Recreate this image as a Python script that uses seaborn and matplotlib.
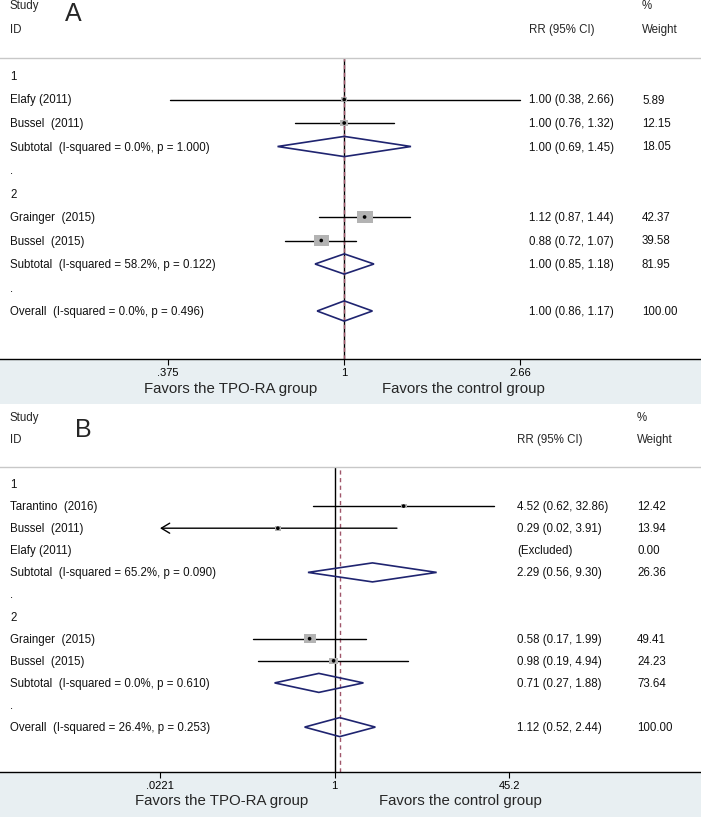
import numpy as np
import pandas as pd
import seaborn as sns
import matplotlib.pyplot as plt
from matplotlib.patches import Polygon, Rectangle
from matplotlib.path import Path
from matplotlib.ticker import NullLocator

# ---- data, panel A ----
labels_a = ["1", "Elafy (2011)", "Bussel  (2011)", "Subtotal  (I-squared = 0.0%, p = 1.000)", ".",
            "2", "Grainger  (2015)", "Bussel  (2015)", "Subtotal  (I-squared = 58.2%, p = 0.122)", ".",
            "Overall  (I-squared = 0.0%, p = 0.496)"]
kind_a = ["group", "study", "study", "pooled", "gap", "group", "study", "study", "pooled", "gap", "pooled"]
est_a = [np.nan, 1.00, 1.00, 1.00, np.nan, np.nan, 1.12, 0.88, 1.00, np.nan, 1.00]
lo_a = [np.nan, 0.38, 0.76, 0.69, np.nan, np.nan, 0.87, 0.72, 0.85, np.nan, 0.86]
hi_a = [np.nan, 2.66, 1.32, 1.45, np.nan, np.nan, 1.44, 1.07, 1.18, np.nan, 1.17]
wt_a = [np.nan, 5.89, 12.15, 18.05, np.nan, np.nan, 42.37, 39.58, 81.95, np.nan, 100.00]
ticks_a = [0.375, 1, 2.66]
ticklabels_a = [".375", "1", "2.66"]
overall_a = 1.00

# ---- data, panel B ----
labels_b = ["1", "Tarantino  (2016)", "Bussel  (2011)", "Elafy (2011)", "Subtotal  (I-squared = 65.2%, p = 0.090)", ".",
            "2", "Grainger  (2015)", "Bussel  (2015)", "Subtotal  (I-squared = 0.0%, p = 0.610)", ".",
            "Overall  (I-squared = 26.4%, p = 0.253)"]
kind_b = ["group", "study", "study", "excluded", "pooled", "gap", "group", "study", "study", "pooled", "gap", "pooled"]
est_b = [np.nan, 4.52, 0.29, np.nan, 2.29, np.nan, np.nan, 0.58, 0.98, 0.71, np.nan, 1.12]
lo_b = [np.nan, 0.62, 0.02, np.nan, 0.56, np.nan, np.nan, 0.17, 0.19, 0.27, np.nan, 0.52]
hi_b = [np.nan, 32.86, 3.91, np.nan, 9.30, np.nan, np.nan, 1.99, 4.94, 1.88, np.nan, 2.44]
wt_b = [np.nan, 12.42, 13.94, 0.00, 26.36, np.nan, np.nan, 49.41, 24.23, 73.64, np.nan, 100.00]
ticks_b = [0.0221, 1, 45.2]
ticklabels_b = [".0221", "1", "45.2"]
overall_b = 1.12

sns.set_theme(style="white")
plt.rcParams['font.family'] = ['Liberation Sans', 'DejaVu Sans']

W, H = 701, 820
fig = plt.figure(figsize=(W / 100, H / 100), dpi=100)

def fx(px):
    return px / W

def fy(py):
    return 1 - py / H

NAVY = "#1f2470"
SHADE = "#e8eff2"
REDDASH = "#a0566a"

# slightly wide box marker like the original
box = Path([(-1.3, -1), (1.3, -1), (1.3, 1), (-1.3, 1), (-1.3, -1)],
           [Path.MOVETO, Path.LINETO, Path.LINETO, Path.LINETO, Path.CLOSEPOLY])


def draw_panel(labels, kind, est, lo, hi, wt, ticks, ticklabels, overall, lay):
    n = len(labels)
    top, row0, step, axis_y = lay["top"], lay["row0"], lay["step"], lay["axis"]
    ax = fig.add_axes([0, fy(axis_y), 1, (axis_y - top) / H])
    ax.set_facecolor("none")

    # x scale: log, fixed so the end ticks land where they are in the figure
    k = (np.log(ticks[-1]) - np.log(ticks[0])) / (lay["tick_px"][1] - lay["tick_px"][0])
    xl = np.exp(np.log(ticks[0]) - lay["tick_px"][0] * k)
    xr = np.exp(np.log(ticks[0]) + (W - lay["tick_px"][0]) * k)
    ax.set_xscale("log")
    ax.set_xlim(xl, xr)
    ax.set_ylim((axis_y - row0) / step, (top - row0) / step)

    df = pd.DataFrame({"label": labels, "kind": kind, "est": est, "lo": lo, "hi": hi, "wt": wt})
    df["row"] = np.arange(n)

    ax.axvline(1, color="black", lw=1.0, zorder=2)
    ax.axvline(overall, color=REDDASH, lw=1.0, ls=(0, (3, 2.5)), zorder=2.5)

    st = df[df["kind"] == "study"]
    for _, r in st.iterrows():
        if r["lo"] < ticks[0]:
            ax.annotate("", xy=(ticks[0], r["row"]), xytext=(r["hi"], r["row"]),
                        arrowprops=dict(arrowstyle="->,head_length=0.5,head_width=0.3",
                                        lw=1.0, color="black", shrinkA=0, shrinkB=0), zorder=3)
        else:
            ax.plot([r["lo"], r["hi"]], [r["row"], r["row"]], color="black", lw=1.0, zorder=3)

    sns.scatterplot(data=st, x="est", y="row", ax=ax, marker=box, s=st["wt"] * lay["box"],
                    color="#b3b3b3", edgecolor="none", linewidth=0, zorder=4, legend=False)
    sns.scatterplot(data=st, x="est", y="row", ax=ax, marker="o", s=7,
                    color="black", edgecolor="none", linewidth=0, zorder=5, legend=False)

    h = 0.43
    for _, r in df[df["kind"] == "pooled"].iterrows():
        y = r["row"]
        ax.add_patch(Polygon([(r["lo"], y), (r["est"], y - h), (r["hi"], y), (r["est"], y + h)],
                             closed=True, fill=False, edgecolor=NAVY, lw=1.2, zorder=4))

    # text columns
    tr = ax.get_yaxis_transform()
    fs = 8.3
    for _, r in df.iterrows():
        ax.text(fx(10), r["row"], r["label"], transform=tr, fontsize=fs, va="center", ha="left", color="#111111")
        if r["kind"] in ("study", "pooled"):
            ax.text(fx(lay["ci_x"]), r["row"], f"{r['est']:.2f} ({r['lo']:.2f}, {r['hi']:.2f})",
                    transform=tr, fontsize=fs, va="center", ha="left", color="#111111")
        if r["kind"] == "excluded":
            ax.text(fx(lay["ci_x"]), r["row"], "(Excluded)", transform=tr, fontsize=fs,
                    va="center", ha="left", color="#111111")
        if r["kind"] in ("study", "pooled", "excluded"):
            ax.text(fx(lay["wt_x"]), r["row"], f"{r['wt']:.2f}", transform=tr, fontsize=fs,
                    va="center", ha="left", color="#111111")

    for s in ["left", "right"]:
        ax.spines[s].set_visible(False)
    ax.spines["top"].set_color("#c8c8c8")
    ax.spines["top"].set_linewidth(1.0)
    ax.spines["bottom"].set_color("black")
    ax.spines["bottom"].set_linewidth(1.0)
    ax.set_yticks([])
    ax.set_xticks(ticks)
    ax.set_xticklabels(ticklabels)
    ax.xaxis.set_minor_locator(NullLocator())
    ax.tick_params(axis="x", bottom=True, direction="out", length=4, width=0.8,
                   pad=1.5, labelsize=8, colors="black")
    ax.set_xlabel("")
    ax.set_ylabel("")

    # shaded strip under the axis
    fig.patches.append(Rectangle((0, fy(lay["shade_bot"])), 1, (lay["shade_bot"] - axis_y) / H,
                                 transform=fig.transFigure, facecolor=SHADE, edgecolor="none", zorder=-1))

    # header
    fig.text(fx(10), fy(lay["head1"]), "Study", fontsize=fs, va="center", ha="left")
    fig.text(fx(10), fy(lay["head2"]), "ID", fontsize=fs, va="center", ha="left")
    fig.text(fx(lay["wt_x"]), fy(lay["head1"]), "%", fontsize=fs, va="center", ha="left")
    fig.text(fx(lay["ci_x"]), fy(lay["head2"]), "RR (95% CI)", fontsize=fs, va="center", ha="left")
    fig.text(fx(lay["wt_x"]), fy(lay["head2"]), "Weight", fontsize=fs, va="center", ha="left")
    fig.text(fx(lay["letter"][0]), fy(lay["letter"][1]), lay["name"], fontsize=18, va="center", ha="center")
    fig.text(fx(lay["fav"][0]), fy(lay["fav"][2]), "Favors the TPO-RA group", fontsize=10.8, va="center", ha="center")
    fig.text(fx(lay["fav"][1]), fy(lay["fav"][2]), "Favors the control group", fontsize=10.8, va="center", ha="center")
    return ax


layout_a = dict(name="A", top=59, row0=77, step=23.5, axis=360, shade_bot=405, tick_px=(168, 520),
                ci_x=529, wt_x=642, head1=6, head2=30, letter=(73, 14), fav=(231, 463, 389), box=3.1)
layout_b = dict(name="B", top=468, row0=485, step=22.1, axis=773, shade_bot=818, tick_px=(160, 509),
                ci_x=517, wt_x=637, head1=418, head2=440, letter=(83, 430), fav=(222, 460, 801), box=1.5)

draw_panel(labels_a, kind_a, est_a, lo_a, hi_a, wt_a, ticks_a, ticklabels_a, overall_a, layout_a)
draw_panel(labels_b, kind_b, est_b, lo_b, hi_b, wt_b, ticks_b, ticklabels_b, overall_b, layout_b)

fig.savefig("out.png", dpi=100)
